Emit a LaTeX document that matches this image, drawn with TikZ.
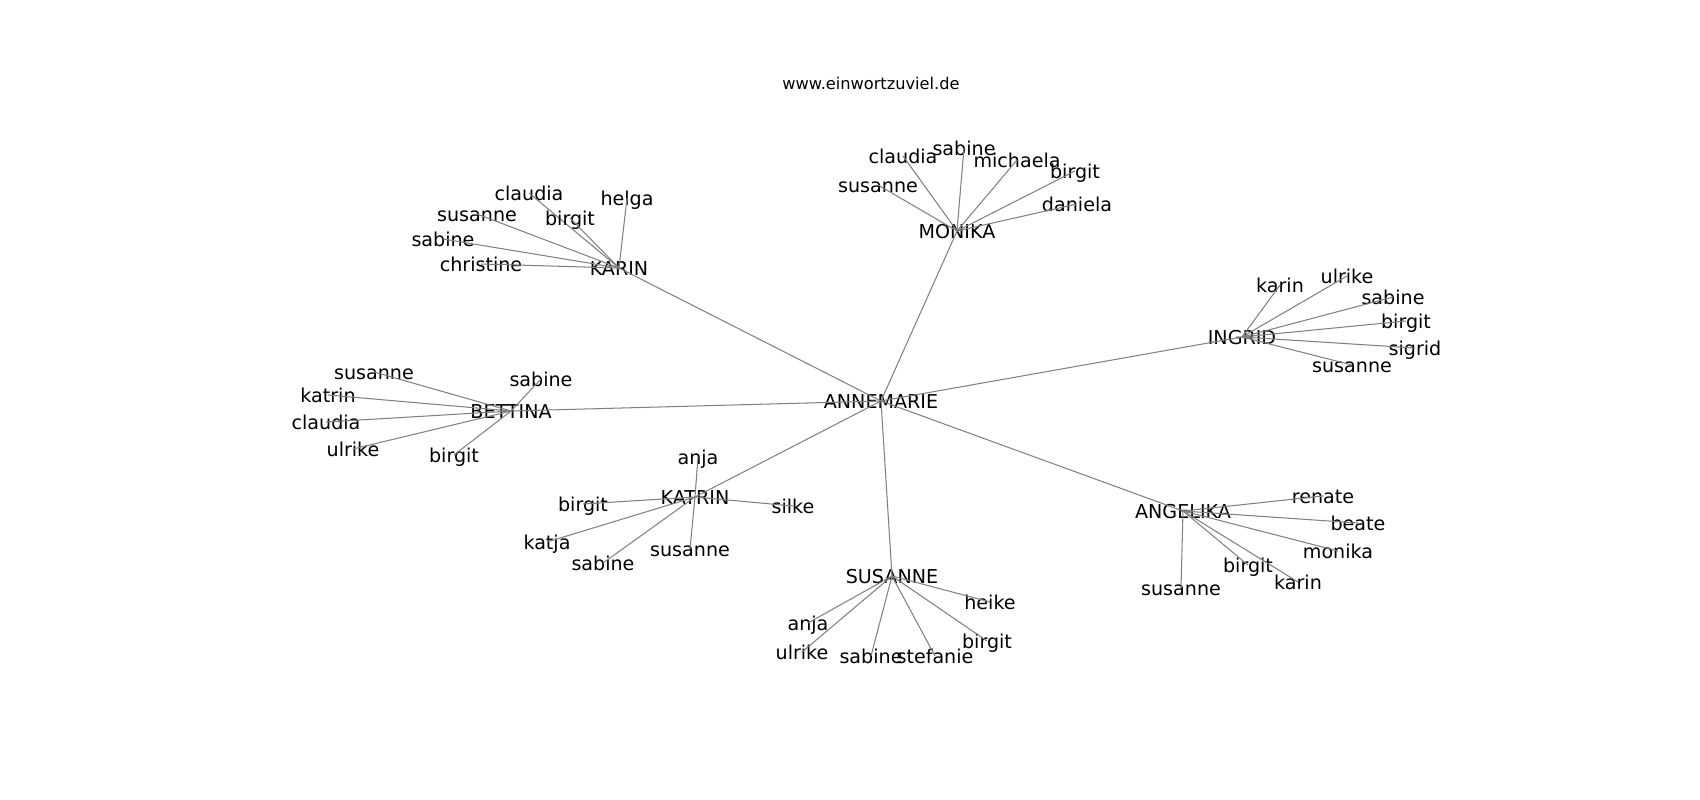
\documentclass[tikz,border=0pt]{standalone}
\usepackage{fontspec}
\setmainfont{DejaVu Sans}
\usetikzlibrary{positioning}
\definecolor{EdgeGray}{HTML}{808080}
\tikzset{
  hub/.style={inner sep=0pt, text height=1.05em, text depth=0pt,
    font=\fontsize{13.8}{16}\selectfont},
  leaf/.style={hub},
  link/.style={EdgeGray, line width=0.75pt}
}

\begin{document}
\begin{tikzpicture}[x=0.01in, y=-0.01in]
  \useasboundingbox (0,0) rectangle (1700,800);

  \node [inner sep=0pt, text height=1.05em, text depth=0pt,
    font=\fontsize{11.7}{14}\selectfont]
    (title) at (871,82) {www.einwortzuviel.de};

  % centre and hubs
  \node [hub] (annemarie) at (881,401) {ANNEMARIE};
  \node [hub] (karin)     at (619,268) {KARIN};
  \node [hub] (bettina)   at (511,411) {BETTINA};
  \node [hub] (monika)    at (957,231) {MONIKA};
  \node [hub] (ingrid)    at (1242,337) {INGRID};
  \node [hub] (katrin)    at (695,497) {KATRIN};
  \node [hub] (susanne)   at (892,576) {SUSANNE};
  \node [hub] (angelika)  at (1183,511) {ANGELIKA};

  \foreach \h in {karin,bettina,monika,ingrid,katrin,susanne,angelika}{%
    \draw [link] (annemarie.center) -- (\h.center);
  }

  % leaves
  \foreach \n/\x/\y in {claudia/529/193,helga/627/198,susanne/477/214,
      birgit/570/218,sabine/443/239,christine/481/264}{%
    \node [leaf] (ka-\n) at (\x,\y) {\n};
    \draw [link] (karin.center) -- (ka-\n.center);
  }
  \foreach \n/\x/\y in {susanne/374/372,katrin/328/395,claudia/326/422,
      ulrike/353/449,birgit/454/455,sabine/541/379}{%
    \node [leaf] (be-\n) at (\x,\y) {\n};
    \draw [link] (bettina.center) -- (be-\n.center);
  }
  \foreach \n/\x/\y in {claudia/903/156,sabine/964/148,michaela/1017/160,
      birgit/1075/171,susanne/878/185,daniela/1077/204}{%
    \node [leaf] (mo-\n) at (\x,\y) {\n};
    \draw [link] (monika.center) -- (mo-\n.center);
  }
  \foreach \n/\x/\y in {karin/1280/285,ulrike/1347/276,sabine/1393/297,
      birgit/1406/321,sigrid/1415/348,susanne/1352/365}{%
    \node [leaf] (in-\n) at (\x,\y) {\n};
    \draw [link] (ingrid.center) -- (in-\n.center);
  }
  \foreach \n/\x/\y in {anja/698/457,birgit/583/504,silke/793/506,
      katja/547/542,sabine/603/563,susanne/690/549}{%
    \node [leaf] (kt-\n) at (\x,\y) {\n};
    \draw [link] (katrin.center) -- (kt-\n.center);
  }
  \foreach \n/\x/\y in {anja/808/623,ulrike/802/652,sabine/871/656,
      stefanie/935/656,heike/990/602,birgit/987/641}{%
    \node [leaf] (su-\n) at (\x,\y) {\n};
    \draw [link] (susanne.center) -- (su-\n.center);
  }
  \foreach \n/\x/\y in {renate/1323/496,beate/1358/523,monika/1338/551,
      birgit/1248/565,karin/1298/582,susanne/1181/588}{%
    \node [leaf] (an-\n) at (\x,\y) {\n};
    \draw [link] (angelika.center) -- (an-\n.center);
  }
\end{tikzpicture}
\end{document}
